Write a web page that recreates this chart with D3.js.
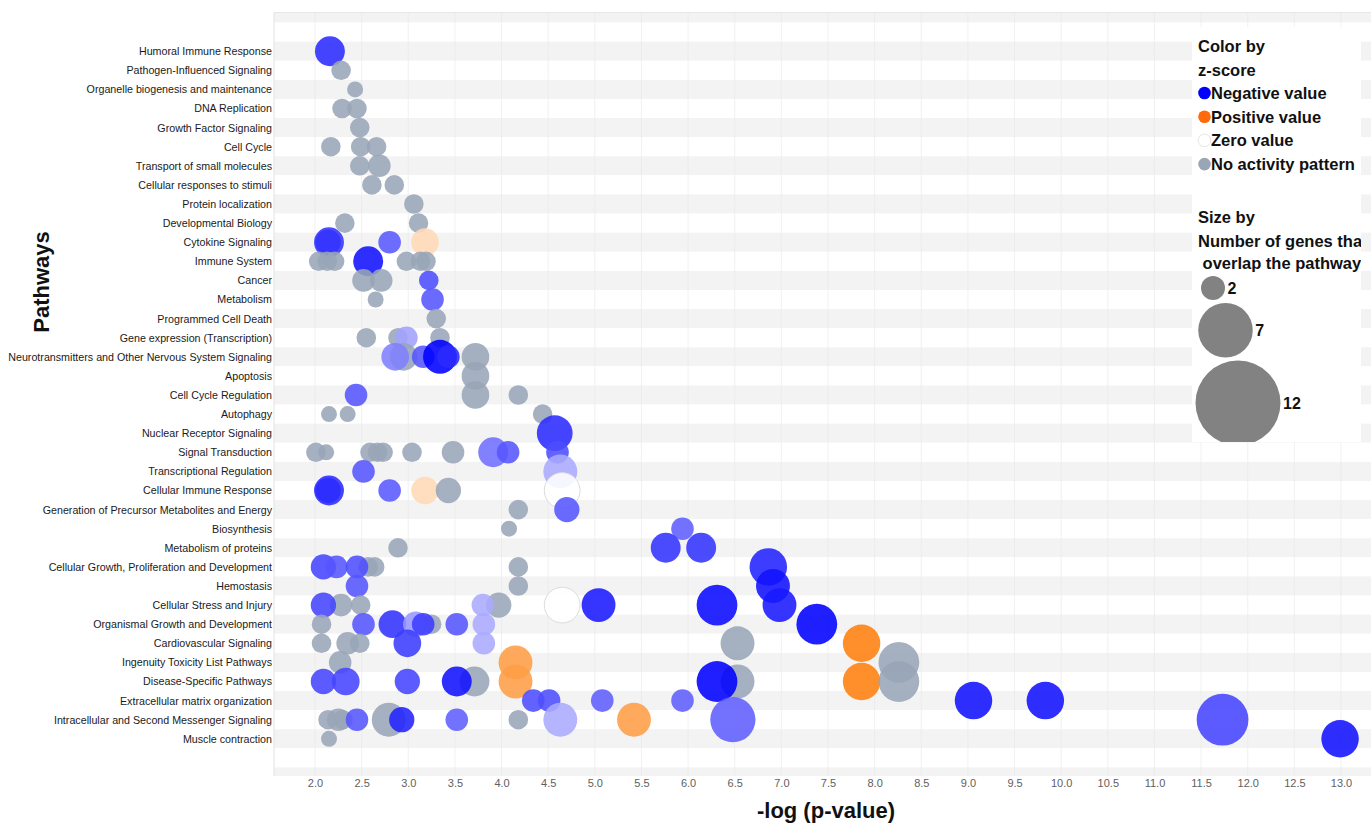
<!DOCTYPE html>
<html>
<head>
<meta charset="utf-8">
<script src="https://cdn.jsdelivr.net/npm/d3@7"></script>
<style>
  body { margin: 0; background: #fff; }
  svg { display: block; font-family: "Liberation Sans", Arial, Helvetica, sans-serif; }
</style>
</head>
<body>
<svg id="chart" width="1371" height="825"></svg>
<script>
// Pathway categories, top to bottom
const pathways = [
  "Humoral Immune Response",
  "Pathogen-Influenced Signaling",
  "Organelle biogenesis and maintenance",
  "DNA Replication",
  "Growth Factor Signaling",
  "Cell Cycle",
  "Transport of small molecules",
  "Cellular responses to stimuli",
  "Protein localization",
  "Developmental Biology",
  "Cytokine Signaling",
  "Immune System",
  "Cancer",
  "Metabolism",
  "Programmed Cell Death",
  "Gene expression (Transcription)",
  "Neurotransmitters and Other Nervous System Signaling",
  "Apoptosis",
  "Cell Cycle Regulation",
  "Autophagy",
  "Nuclear Receptor Signaling",
  "Signal Transduction",
  "Transcriptional Regulation",
  "Cellular Immune Response",
  "Generation of Precursor Metabolites and Energy",
  "Biosynthesis",
  "Metabolism of proteins",
  "Cellular Growth, Proliferation and Development",
  "Hemostasis",
  "Cellular Stress and Injury",
  "Organismal Growth and Development",
  "Cardiovascular Signaling",
  "Ingenuity Toxicity List Pathways",
  "Disease-Specific Pathways",
  "Extracellular matrix organization",
  "Intracellular and Second Messenger Signaling",
  "Muscle contraction"
];

// -log(p-value) of each enriched term, grouped by pathway (same order as above)
const logP = [
  [2.16],
  [2.28],
  [2.43],
  [2.29, 2.45],
  [2.48],
  [2.17, 2.49, 2.66],
  [2.48, 2.69],
  [2.61, 2.85],
  [3.06],
  [2.32, 3.11],
  [2.15, 2.14, 2.80, 3.18],
  [2.04, 2.13, 2.21, 2.57, 2.98, 3.13, 3.19],
  [2.52, 2.71, 3.22],
  [2.65, 3.26],
  [3.30],
  [2.55, 2.89, 2.98, 3.34],
  [2.95, 2.86, 3.16, 3.34, 3.43, 3.72],
  [3.72],
  [2.44, 3.72, 4.18],
  [2.15, 2.35, 4.44],
  [4.57],
  [2.01, 2.12, 2.59, 2.67, 2.73, 3.04, 3.48, 3.91, 4.07, 4.60],
  [2.52, 4.63],
  [2.15, 2.14, 2.80, 3.18, 3.43, 4.65],
  [4.18, 4.70],
  [4.08, 5.94],
  [2.89, 5.76, 6.14],
  [2.57, 2.64, 2.09, 2.23, 2.45, 4.18, 6.86],
  [2.45, 4.18, 6.91],
  [2.28, 2.49, 2.09, 3.97, 3.80, 4.65, 5.04, 6.31, 6.98],
  [2.07, 3.25, 2.52, 2.83, 3.08, 3.16, 3.52, 3.81, 7.38],
  [2.07, 2.35, 2.48, 2.99, 3.81, 6.53, 7.86],
  [2.27, 4.15, 8.26],
  [2.09, 2.33, 2.99, 3.71, 3.52, 4.15, 6.53, 6.31, 7.86, 8.26],
  [4.34, 4.51, 5.08, 5.94, 9.06, 9.83],
  [2.14, 2.25, 2.30, 2.45, 2.79, 2.93, 3.52, 4.18, 4.63, 5.42, 6.48, 11.73],
  [2.15, 12.99]
];

// Number of genes that overlap each term
const geneCounts = [
  [7],
  [3],
  [2],
  [3, 3],
  [3],
  [3, 3, 3],
  [3, 4],
  [3, 3],
  [3],
  [3, 3],
  [7, 5, 4, 6],
  [3, 3, 3, 7, 3, 3, 3],
  [4, 4, 3],
  [2, 4],
  [3],
  [3, 3, 4, 3],
  [6, 6, 4, 9, 4, 6],
  [6],
  [4, 6, 3],
  [2, 2, 3],
  [10],
  [3, 2, 3, 3, 3, 3, 4, 7, 4, 4],
  [4, 9],
  [7, 5, 4, 6, 5, 10],
  [3, 5],
  [2, 4],
  [3, 7, 7],
  [3, 3, 5, 4, 4, 3, 11],
  [4, 3, 9],
  [4, 3, 5, 5, 4, 10, 9, 13, 9],
  [3, 3, 4, 6, 5, 4, 4, 4, 13],
  [3, 4, 3, 6, 4, 9, 11],
  [4, 9, 13],
  [5, 6, 5, 7, 7, 9, 9, 13, 11, 13],
  [4, 4, 4, 4, 11, 11],
  [3, 4, 3, 4, 9, 5, 4, 3, 9, 9, 16, 21],
  [2, 11]
];

// Activation z-score of each term (null = no activity pattern)
const zScores = [
  [-2.5],
  [null],
  [null],
  [null, null],
  [null],
  [null, null, null],
  [null, null],
  [null, null],
  [null],
  [null, null],
  [-2.4, -2.4, -1.95, 0.9],
  [null, null, null, -2.8, null, null, null],
  [null, null, -2.1],
  [null, -2.0],
  [null],
  [null, null, -1.1, null],
  [null, -1.5, -2.0, -3.0, -2.5, null],
  [null],
  [-2.0, null, null],
  [null, null, null],
  [-2.5],
  [null, null, null, null, null, null, null, -1.7, -2.0, -2.1],
  [-2.0, -1.0],
  [-2.5, -2.5, -1.95, 0.9, null, 0],
  [null, -2.0],
  [null, -1.9],
  [null, -2.4, -2.4],
  [null, null, -2.2, -2.0, -2.1, null, -2.6],
  [-2.0, null, -2.8],
  [null, null, -2.2, null, -1.0, 0, -2.7, -2.9, -2.7],
  [null, null, -2.0, -2.4, -1.2, -2.3, -2.0, -1.0, -3.0],
  [null, null, null, -2.3, -1.0, null, 3.0],
  [null, 2.3, null],
  [-2.2, -2.2, -2.2, null, -2.8, 2.3, null, -3.0, 3.0, null],
  [-2.1, -2.1, -1.9, -1.9, -2.8, -2.8],
  [null, null, null, -2.0, null, -2.6, -1.9, null, -1.0, 2.3, -1.9, -2.2],
  [null, -2.8]
];

// Axis ticks and legend entries
const xTicks = d3.range(2, 13.01, 0.5);
const colorLegendLabels = ["Negative value", "Positive value", "Zero value", "No activity pattern"];
const colorLegendValues = [-3, 3, 0, null];
const sizeLegendValues = [2, 7, 12];

// ---------------------------------------------------------------
const plot = { left: 274, right: 1371, top: 12, bottom: 776 };

const svg = d3.select("#chart");

const x = d3.scaleLinear().domain([2, 13]).range([315, 1341]);
const y = d3.scalePoint().domain(pathways).range([13, 777]).padding(2);
const step = y.step();

const r = d3.scaleSqrt().domain([0, 21]).range([0, 25.9]);
const zColor = d3.scaleLinear().domain([-3, 0, 3])
  .range(["#0000ff", "#ffffff", "#ff7f0e"]).clamp(true);
const greyFill = "#98a5b7";

const bubbles = [];
pathways.forEach((p, i) => {
  logP[i].forEach((v, j) => {
    bubbles.push({ pathway: p, logp: v, genes: geneCounts[i][j], z: zScores[i][j] });
  });
});

// clip region for the plotting area
const defs = svg.append("defs");
defs.append("clipPath").attr("id", "plotClip")
  .append("rect")
  .attr("x", plot.left).attr("y", plot.top)
  .attr("width", plot.right - plot.left).attr("height", plot.bottom - plot.top);

const plotG = svg.append("g").attr("clip-path", "url(#plotClip)");

// alternating row stripes, including two blank rows above and below
const y0 = y(pathways[0]);
const stripeRows = d3.range(-2, pathways.length + 2);
plotG.append("g").selectAll("rect")
  .data(stripeRows)
  .join("rect")
  .attr("x", plot.left)
  .attr("width", plot.right - plot.left)
  .attr("y", k => y0 + k * step - step / 2)
  .attr("height", step)
  .attr("fill", k => (k % 2 === 0) ? "#f3f3f3" : "#ffffff");

// faint vertical gridlines
plotG.append("g").selectAll("line")
  .data(xTicks)
  .join("line")
  .attr("x1", d => x(d)).attr("x2", d => x(d))
  .attr("y1", plot.top).attr("y2", plot.bottom)
  .attr("stroke", "#e9e9e9").attr("stroke-width", 1).attr("opacity", 0.6);

// plot frame edges
svg.append("line").attr("x1", plot.left).attr("x2", plot.left)
  .attr("y1", plot.top).attr("y2", plot.bottom)
  .attr("stroke", "#e2e2e2");
svg.append("line").attr("x1", plot.left).attr("x2", plot.right)
  .attr("y1", plot.top + 0.5).attr("y2", plot.top + 0.5)
  .attr("stroke", "#e6e6e6");

// bubbles
plotG.append("g").selectAll("circle")
  .data(bubbles)
  .join("circle")
  .attr("cx", d => x(d.logp))
  .attr("cy", d => y(d.pathway))
  .attr("r", d => r(d.genes))
  .attr("fill", d => d.z === null ? greyFill : zColor(d.z))
  .attr("fill-opacity", 0.88)
  .attr("stroke", d => d.z === 0 ? "#dcdcdc" : "none")
  .attr("stroke-width", 1);

// x axis
const xAxis = d3.axisBottom(x)
  .tickValues(xTicks)
  .tickFormat(d3.format(".1f"))
  .tickSize(0)
  .tickPadding(3);
const xg = svg.append("g").attr("transform", `translate(0,${plot.bottom})`).call(xAxis);
xg.select(".domain").remove();
xg.selectAll("text").attr("font-size", 11).attr("fill", "#606060")
  .attr("font-family", "Liberation Sans, Arial, sans-serif");

// y axis (pathway names)
const yAxis = d3.axisLeft(y).tickSize(0).tickPadding(2);
const yg = svg.append("g").attr("transform", `translate(${plot.left},0)`).call(yAxis);
yg.select(".domain").remove();
yg.selectAll("text").attr("font-size", 10.7).attr("fill", "#1a1a1a")
  .attr("font-family", "Liberation Sans, Arial, sans-serif");

// axis titles
svg.append("text")
  .attr("x", 826).attr("y", 818)
  .attr("text-anchor", "middle")
  .attr("font-size", 22).attr("font-weight", "bold").attr("fill", "#111")
  .text("-log (p-value)");

svg.append("text")
  .attr("transform", "translate(49,282) rotate(-90)")
  .attr("text-anchor", "middle")
  .attr("font-size", 22).attr("font-weight", "bold").attr("fill", "#111")
  .text("Pathways");

// legend
const legend = { left: 1192, top: 27, right: 1361, bottom: 442 };
defs.append("clipPath").attr("id", "legendClip")
  .append("rect")
  .attr("x", legend.left).attr("y", legend.top)
  .attr("width", legend.right - legend.left).attr("height", legend.bottom - legend.top);

svg.append("rect")
  .attr("x", legend.left).attr("y", legend.top)
  .attr("width", legend.right - legend.left).attr("height", legend.bottom - legend.top)
  .attr("fill", "#fff");

const lg = svg.append("g").attr("clip-path", "url(#legendClip)")
  .attr("font-weight", "bold").attr("fill", "#111").attr("font-size", 16.5);

lg.append("text").attr("x", 1198).attr("y", 52).text("Color by");
lg.append("text").attr("x", 1198).attr("y", 76).text("z-score");

const colorRows = lg.append("g").selectAll("g")
  .data(colorLegendLabels)
  .join("g")
  .attr("transform", (d, i) => `translate(0,${93 + i * 23.7})`);
colorRows.append("circle")
  .attr("cx", 1204.5).attr("cy", 0).attr("r", 6.3)
  .attr("fill", (d, i) => {
    const v = colorLegendValues[i];
    if (v === null) return "#9aa6b6";
    if (v < 0) return "#0000ff";
    if (v > 0) return "#ff6a0a";
    return "#ffffff";
  })
  .attr("stroke", (d, i) => colorLegendValues[i] === 0 ? "#e6e6e6" : "none");
colorRows.append("text")
  .attr("x", 1211).attr("y", 6)
  .text(d => d);

lg.append("text").attr("x", 1198).attr("y", 223).text("Size by");
lg.append("text").attr("x", 1198).attr("y", 247).text("Number of genes that");
lg.append("text").attr("x", 1198).attr("y", 269).attr("xml:space", "preserve").text(" overlap the pathway");

// size key: circles stacked vertically with a small gap
const legendR = d3.scaleLinear().domain([2, 12]).range([12, 42.5]);
const legendCx = d3.scaleLinear().domain([2, 12]).range([1213, 1238]);
const sizeKeyTop = 276, sizeKeyGap = 3;
const sizeCy = [];
sizeLegendValues.reduce((top, v) => {
  sizeCy.push(top + legendR(v));
  return top + 2 * legendR(v) + sizeKeyGap;
}, sizeKeyTop);

const sizeRows = lg.append("g").selectAll("g")
  .data(sizeLegendValues)
  .join("g");
sizeRows.append("circle")
  .attr("cx", d => legendCx(d))
  .attr("cy", (d, i) => sizeCy[i])
  .attr("r", d => legendR(d))
  .attr("fill", "#828282");
sizeRows.append("text")
  .attr("x", d => legendCx(d) + legendR(d) + 2.5)
  .attr("y", (d, i) => sizeCy[i] + 6)
  .attr("font-size", 16)
  .text(d => d);
</script>
</body>
</html>
